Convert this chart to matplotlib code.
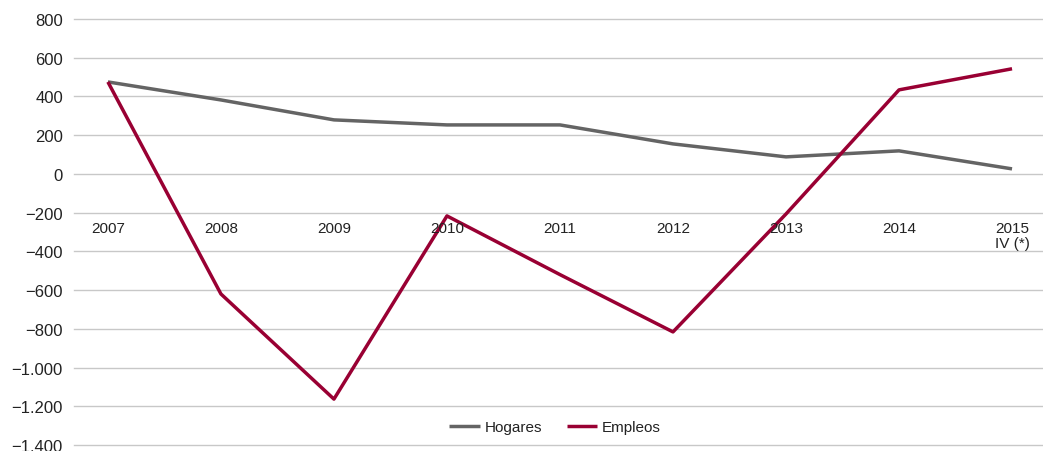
import matplotlib
matplotlib.use("Agg")
import matplotlib.pyplot as plt
from matplotlib.ticker import FixedLocator, FuncFormatter

categories = ["2007", "2008", "2009", "2010", "2011", "2012", "2013", "2014", "2015\nIV (*)"]
hogares = [475, 382, 279, 253, 253, 155, 88, 119, 26]
empleos = [475, -620, -1163, -217, -520, -816, -207, 434, 543]
yticks = [800, 600, 400, 200, 0, -200, -400, -600, -800, -1000, -1200, -1400]

plt.rcParams['font.family'] = ['Liberation Sans', 'DejaVu Sans']

W, H = 1043, 452
fig = plt.figure(figsize=(W / 100, H / 100), dpi=100)
left, right, top, bottom = 74, 1043, 20, 446
ax = fig.add_axes([left / W, 1 - bottom / H, (right - left) / W, (bottom - top) / H])

x = list(range(len(categories)))
ax.plot(x, hogares, color="#646464", lw=2.5, solid_capstyle="butt", label="Hogares", zorder=3)
ax.plot(x, empleos, color="#990033", lw=2.5, solid_capstyle="butt", label="Empleos", zorder=3)

ax.set_ylim(-1400, 800)
ax.set_xlim(-0.30, 8.274)
ax.yaxis.set_major_locator(FixedLocator(yticks))

def fmt(v, pos):
    s = f"{abs(int(v)):,}".replace(",", ".")
    return ("\u2212" + s) if v < 0 else s

ax.yaxis.set_major_formatter(FuncFormatter(fmt))
ax.tick_params(axis='y', length=0, pad=8, labelsize=12, labelcolor="#222222")
ax.set_xticks([])
ax.grid(axis='y', color="#c8c8c8", lw=1)
for gl in ax.get_ygridlines():
    gl.set_clip_on(False)
ax.set_axisbelow(True)
for s in ax.spines.values():
    s.set_visible(False)

for xi, lab in zip(x, categories):
    ax.text(xi, -243, lab, ha='center', va='top', fontsize=11, color="#222222",
            linespacing=1.1)

leg = fig.legend(loc='center', bbox_to_anchor=(555 / W, 1 - 428 / H), ncol=2, frameon=False,
                 fontsize=11, handlelength=2.0, handletextpad=0.3, columnspacing=1.6)
for t in leg.get_texts():
    t.set_color("#222222")

fig.savefig("out.png", dpi=100)
